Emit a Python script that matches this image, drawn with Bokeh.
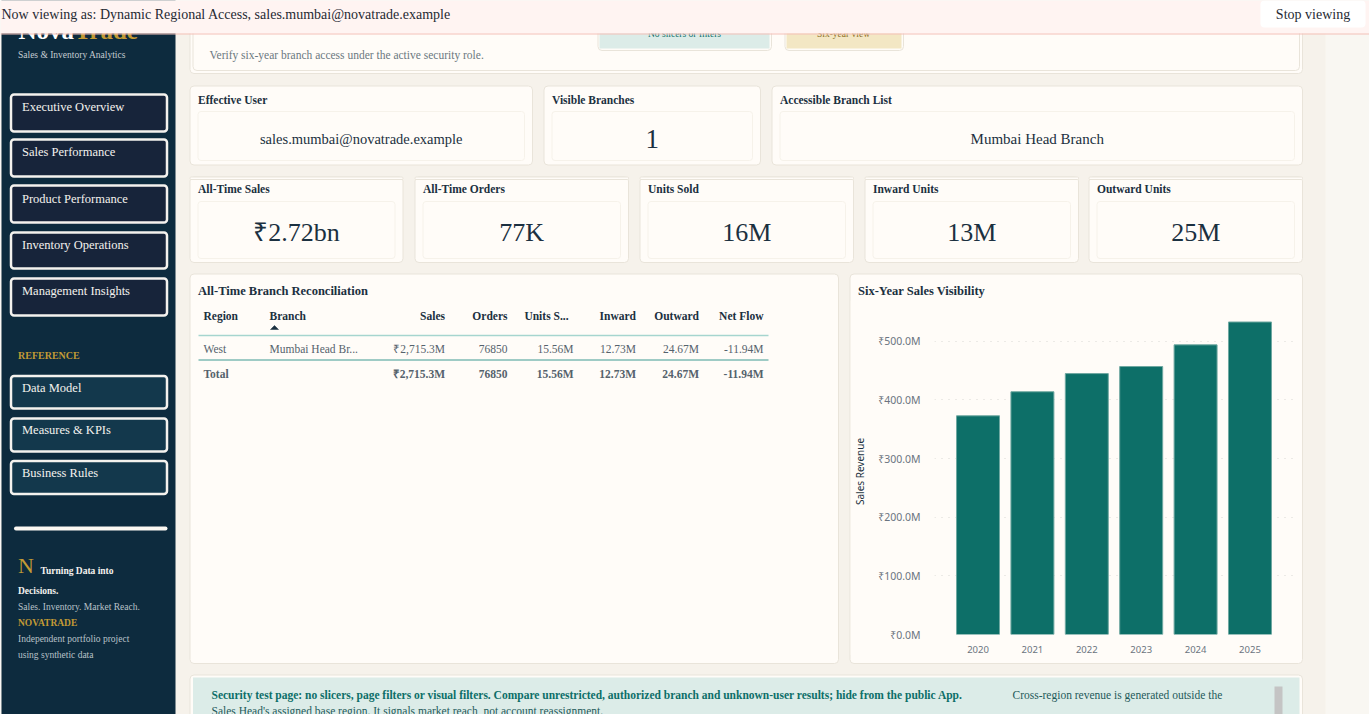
from bokeh.plotting import figure
from bokeh.models import Range1d, FixedTicker, PrintfTickFormatter, FactorRange
from bokeh.embed import file_html
from bokeh.resources import INLINE

# ---- chart data
years = ["2020", "2021", "2022", "2023", "2024", "2025"]
sales_musd = [373, 414, 445, 457, 494, 533]
y_ticks = [0, 100, 200, 300, 400, 500]

# ---- text content
banner_text = "Now viewing as: Dynamic Regional Access, sales.mumbai@novatrade.example"
nav_main = ["Executive Overview", "Sales Performance", "Product Performance", "Inventory Operations", "Management Insights"]
nav_ref = ["Data Model", "Measures & KPIs", "Business Rules"]
kpi_titles = ["All-Time Sales", "All-Time Orders", "Units Sold", "Inward Units", "Outward Units"]
kpi_values = ["₹2.72bn", "77K", "16M", "13M", "25M"]
access_titles = ["Effective User", "Visible Branches", "Accessible Branch List"]
access_values = ["sales.mumbai@novatrade.example", "1", "Mumbai Head Branch"]
table_header = ["Region", "Branch", "Sales", "Orders", "Units S...", "Inward", "Outward", "Net Flow"]
table_row = ["West", "Mumbai Head Br...", "₹2,715.3M", "76850", "15.56M", "12.73M", "24.67M", "-11.94M"]
table_total = ["Total", "", "₹2,715.3M", "76850", "15.56M", "12.73M", "24.67M", "-11.94M"]

FONT = "Noto Sans"
NAVY = "#0d2b3e"
INK = "#1b3040"
GOLD = "#c29a35"
TEAL = "#0d6f68"
PANEL = "#fffcf8"
EDGE = "#e9e4da"

bg = figure(width=1369, height=714, x_range=Range1d(0, 1369), y_range=Range1d(714, 0),
            x_axis_type=None, y_axis_type=None, toolbar_location=None, output_backend="svg",
            min_border=0, outline_line_color=None, background_fill_color="#f6f2eb",
            border_fill_color="#f6f2eb")
bg.grid.visible = False
bg.styles = {"position": "absolute", "left": "0px", "top": "0px"}


def box(l, t, r, b, fill=PANEL, line=EDGE, lw=1, radius=4):
    bg.quad(left=[l], right=[r], top=[t], bottom=[b], fill_color=fill, line_color=line,
            line_width=lw, border_radius=radius)


def label(x, y, s, size=12, color=INK, style="normal", align="left"):
    bg.text(x=[x], y=[y], text=[s], text_font=FONT, text_font_size=f"{size}px", text_color=color,
            text_font_style=style, text_align=align, text_baseline="middle")


# right gutter
box(1325, 0, 1369, 714, fill="#f9f7f2", line=None, radius=0)

# sidebar
box(1, 0, 175, 714, fill=NAVY, line=None, radius=0)
label(18, 30, "Nova", 25, "#ffffff", "bold")
label(74, 30, "Trade", 25, GOLD, "bold")
label(17.5, 54, "Sales & Inventory Analytics", 9.5, "#c5ccd2")
for name, t, b, ty in zip(nav_main, [94, 139, 185, 232, 278], [131, 176, 222, 268, 315], [106, 151, 198, 244, 290]):
    box(10.5, t, 166.5, b, fill="#17243a", line="#f4f2ee", lw=2.5, radius=3)
    label(21.5, ty, name, 12.5, "#f4f2ee")
label(17.5, 355, "REFERENCE", 10, GOLD, "bold")
for name, t, b, ty in zip(nav_ref, [375.5, 418, 460.5], [408, 451, 493.5], [387, 429.5, 472.5]):
    box(10.5, t, 166.5, b, fill="#13384c", line="#f4f2ee", lw=2.5, radius=3)
    label(21.5, ty, name, 12.5, "#f4f2ee")
box(13.5, 526, 167, 530, fill="#fbf8f2", line=None, radius=2)
label(17.5, 565, "N", 22, GOLD)
label(40, 570, "Turning Data into", 9.5, "#f4f2ee", "bold")
label(17.5, 590, "Decisions.", 9.5, "#f4f2ee", "bold")
label(17.5, 606, "Sales. Inventory. Market Reach.", 9.5, "#b9c2c9")
label(17.5, 622, "NOVATRADE", 9.5, GOLD, "bold")
label(17.5, 638, "Independent portfolio project", 9.5, "#b9c2c9")
label(17.5, 654, "using synthetic data", 9.5, "#b9c2c9")

# header panel
box(189.5, 10, 1302, 73)
box(192.5, 10, 1299, 70)
label(209, 54, "Verify six-year branch access under the active security role.", 11.5, "#6b7880")
box(597.5, 10, 771, 50)
box(599, 10, 769, 48, fill="#dcece8", line=None, radius=0)
box(784.5, 10, 903, 50)
box(786, 10, 901, 48, fill="#f3e7c4", line=None, radius=0)
label(684, 33, "No slicers or filters", 9.5, TEAL, align="center")
label(843, 33, "Six-year view", 9.5, "#8a6d1f", align="center")

# access cards
for l, r, title, value, vsize in zip([189.5, 543.5, 771.5], [532, 760, 1302], access_titles, access_values, [14.5, 27, 15]):
    box(l, 85.5, r, 164.5)
    box(l + 8, 111, r - 8, 160, line="#f6f2ea", radius=3)
    label(l + 8, 99, title, 11.5, INK, "bold")
    label((l + r) / 2, 138, value, vsize, INK, "normal", "center")

# KPI cards
for l, r, title, value in zip([189.5, 414.5, 639.5, 864.5, 1088.5], [402.5, 628, 853, 1078, 1302], kpi_titles, kpi_values):
    box(l, 176.5, r, 262)
    box(l, 176.5, r, 179, fill=PANEL, radius=1)
    box(l + 8, 201, r - 8, 258, line="#f6f2ea", radius=3)
    label(l + 8, 188.5, title, 11.5, INK, "bold")
    label((l + r) / 2, 232, value, 26, INK, "normal", "center")

# table panel
box(189.5, 273.5, 838, 663)
label(197.5, 290, "All-Time Branch Reconciliation", 12.5, INK, "bold")
col_x = [203, 269, 444.5, 507, 568, 635.5, 698.5, 763]
head_align = ["left", "left", "right", "right", "right", "right", "right", "right"]
row_x = [203, 269, 444.5, 507, 573, 635.5, 698.5, 763]
for x, s, a in zip(col_x, table_header, head_align):
    label(x, 315.5, s, 11.5, INK, "bold", a)
bg.patch(x=[270, 278, 274], y=[329, 329, 325], fill_color=INK, line_color=INK, line_width=0.5)
bg.line(x=[198, 768], y=[335, 335], line_color="#a6d5cf", line_width=1.5)
for x, s, a in zip(row_x, table_row, head_align):
    label(x, 348.5, s, 11.5, "#55626c", "normal", a)
bg.line(x=[198, 768], y=[359.5, 359.5], line_color="#3f9a92", line_width=1)
for x, s, a in zip(row_x, table_total, head_align):
    label(x, 373.5, s, 11.5, "#55626c", "bold", a)

# chart panel
box(849.5, 273.5, 1302, 663)
label(857.5, 290, "Six-Year Sales Visibility", 12.5, INK, "bold")

# footer panel
box(189.5, 674.5, 1302, 730)
box(192.5, 677, 1299, 730, fill="#dcece8", line=None, radius=0)
label(211, 694.5, "Security test page: no slicers, page filters or visual filters. Compare unrestricted, authorized branch and unknown-user results; hide from the public App.", 11.5, TEAL, "bold")
label(1012, 694.5, "Cross-region revenue is generated outside the", 11.5, "#1f5a5a")
label(211, 710.5, "Sales Head's assigned base region. It signals market reach, not account reassignment.", 11.5, "#1f5a5a")
box(1274, 686, 1282, 714, fill="#c4c4c4", line=None, radius=0)

# impersonation banner
box(0, 0, 1369, 33, fill="#fff4f2", line=None, radius=0)
bg.line(x=[0, 1369], y=[33.5, 33.5], line_color="#f4c0b8", line_width=1)
box(1260, 0, 1365, 27, fill="#ffffff", line=None, radius=4)
label(1, 14, banner_text, 14, "#1f2a33")
label(1312.5, 14, "Stop viewing", 14, "#1f2a33", align="center")

# bar chart
chart = figure(width=450, height=355, x_range=FactorRange(factors=years, range_padding=0.3, range_padding_units="absolute"),
               y_range=Range1d(0, 556), toolbar_location=None, output_backend="svg",
               min_border_left=77, min_border_right=7, min_border_top=8, min_border_bottom=20,
               outline_line_color=None, background_fill_color=PANEL, border_fill_color=PANEL)
chart.styles = {"position": "absolute", "left": "850px", "top": "300px"}
chart.vbar(x=years, top=sales_musd, width=0.79, fill_color=TEAL, line_color="#6fa8a1", line_width=1)
chart.xgrid.visible = False
chart.ygrid.grid_line_color = "#d9d9d4"
chart.ygrid.grid_line_dash = [1, 6]
chart.ygrid.grid_line_width = 1
chart.ygrid.level = "underlay"
chart.yaxis.ticker = FixedTicker(ticks=y_ticks)
chart.yaxis.formatter = PrintfTickFormatter(format="₹%.1fM")
chart.yaxis.axis_label = "Sales Revenue"
chart.yaxis.axis_label_text_font = FONT
chart.yaxis.axis_label_text_font_size = "10px"
chart.yaxis.axis_label_text_font_style = "normal"
chart.yaxis.axis_label_text_color = INK
chart.yaxis.axis_label_standoff = 8
for ax in (chart.xaxis[0], chart.yaxis[0]):
    ax.axis_line_color = None
    ax.major_tick_line_color = None
    ax.minor_tick_line_color = None
    ax.major_label_text_font = FONT
    ax.major_label_text_color = "#6b7480"
chart.yaxis.major_label_text_font_size = "10.5px"
chart.xaxis.major_label_text_font_size = "9.5px"
chart.yaxis.major_label_standoff = 8
chart.xaxis.major_label_standoff = 5

open("out.html", "w").write(file_html([bg, chart], INLINE))
